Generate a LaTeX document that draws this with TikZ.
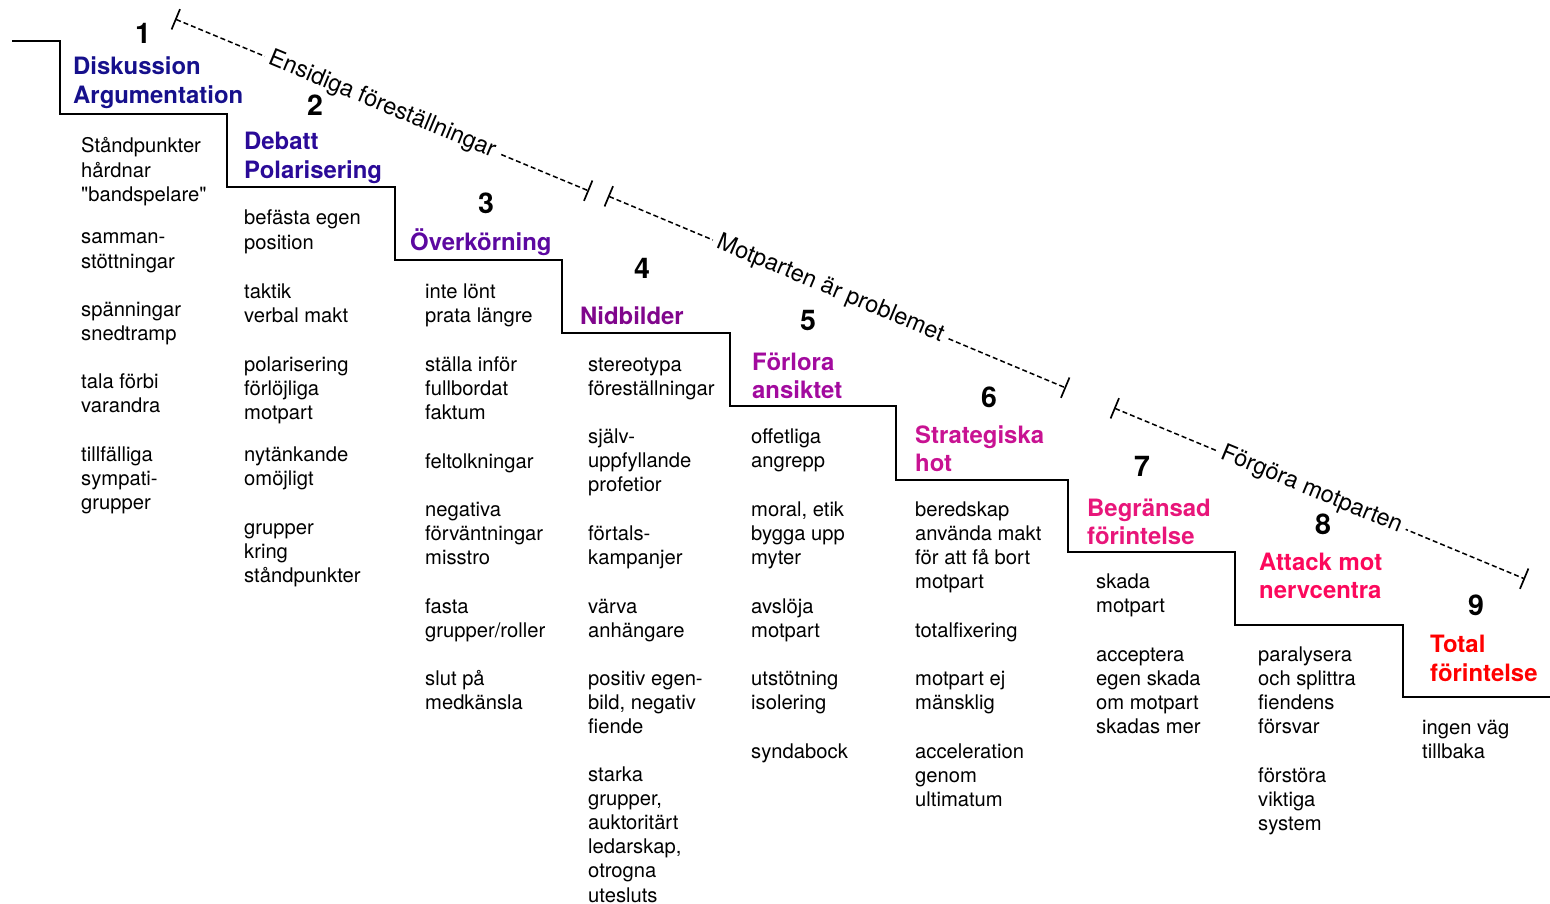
\documentclass[tikz,border=0pt]{standalone}
\usepackage{fontspec}
\setmainfont{TeX Gyre Heros}[Ligatures=TeXOff]
\usetikzlibrary{arrows.meta}
\definecolor{c1}{RGB}{22,16,140}
\definecolor{c2}{RGB}{42,10,152}
\definecolor{c3}{RGB}{92,8,160}
\definecolor{c4}{RGB}{128,6,140}
\definecolor{c5}{RGB}{162,10,158}
\definecolor{c6}{RGB}{200,18,146}
\definecolor{c7}{RGB}{232,22,122}
\definecolor{c8}{RGB}{252,8,92}
\definecolor{c9}{RGB}{255,0,0}
\tikzset{
  body/.style={anchor=base west, align=left, inner sep=0pt, font=\fontsize{20.2}{24.2}\selectfont},
  ttl/.style={anchor=base west, align=left, inner sep=0pt, font=\fontsize{23.9}{28.5}\selectfont\bfseries},
  num/.style={inner sep=0pt, font=\fontsize{28.5}{30}\selectfont\bfseries},
  stair/.style={line width=1.6pt},
  span/.style={line width=1.5pt, dash pattern=on 5pt off 3pt,
    {Bar[width=22pt,line width=1.7pt]}-{Bar[width=22pt,line width=1.7pt]}},
  lbl/.style={sloped, fill=white, inner xsep=5pt, inner ysep=1pt, font=\fontsize{23.5}{26}\selectfont}
}
\begin{document}
\begin{tikzpicture}[x=1pt,y=-1pt]
\useasboundingbox (0,0) rectangle (1550,904);
% staircase
\draw[stair] (12,41) -- (60,41) -- (60,114) -- (227,114) -- (227,187) -- (395,187) -- (395,260)
  -- (562,260) -- (562,333) -- (730,333) -- (730,406) -- (896,406) -- (896,480) -- (1068,480)
  -- (1068,552) -- (1235,552) -- (1235,625) -- (1403,625) -- (1403,697) -- (1550,697);
% spans
\coordinate (s1a) at (175,19);  \coordinate (s1b) at (589,191);
\coordinate (s2a) at (608,196); \coordinate (s2b) at (1066,388);
\coordinate (s3a) at (1114,408);\coordinate (s3b) at (1525,579);
\draw[span] (s1a) -- node[lbl, pos=0.5] (l1) {Ensidiga föreställningar} (s1b);
\draw[span] (s2a) -- node[lbl, pos=0.485] (l2) {Motparten är problemet} (s2b);
\draw[span] (s3a) -- node[lbl, pos=0.48] (l3) {Förgöra motparten} (s3b);
% numbers
\node[num] (n1) at (143,33) {1};
\node[num] (n2) at (315,105) {2};
\node[num] (n3) at (486,203) {3};
\node[num] (n4) at (642,268) {4};
\node[num] (n5) at (808,321) {5};
\node[num] (n6) at (989,397) {6};
\node[num] (n7) at (1142,466) {7};
\node[num] (n8) at (1323,524) {8};
\node[num] (n9) at (1476,605) {9};
% titles (anchor = baseline of the last line)
\node[ttl, text=c1] (t1) at (73,103.5) {Diskussion\\Argumentation};
\node[ttl, text=c2] (t2) at (244,178.5) {Debatt\\Polarisering};
\node[ttl, text=c3] (t3) at (410,251) {Överkörning};
\node[ttl, text=c4] (t4) at (580,324) {Nidbilder};
\node[ttl, text=c5] (t5) at (752,398.5) {Förlora\\ansiktet};
\node[ttl, text=c6] (t6) at (915,471.5) {Strategiska\\hot};
\node[ttl, text=c7] (t7) at (1087,544.5) {Begränsad\\förintelse};
\node[ttl, text=c8] (t8) at (1259,598.5) {Attack mot\\nervcentra};
\node[ttl, text=c9] (t9) at (1430,681) {Total\\förintelse};
% column 1
\node[body] (b1a) at (81,201.4) {Ståndpunkter\\hårdnar\\"bandspelare"};
\node[body] (b1b) at (81,268.2) {samman-\\stöttningar};
\node[body] (b1c) at (81,340.2) {spänningar\\snedtramp};
\node[body] (b1d) at (81,412.2) {tala förbi\\varandra};
\node[body] (b1e) at (81,509.4) {tillfälliga\\sympati-\\grupper};
% column 2
\node[body] (b2a) at (244,249.2) {befästa egen\\position};
\node[body] (b2b) at (244,322.2) {taktik\\verbal makt};
\node[body] (b2c) at (244,419.4) {polarisering\\förlöjliga\\motpart};
\node[body] (b2d) at (244,485.2) {nytänkande\\omöjligt};
\node[body] (b2e) at (244,582.4) {grupper\\kring\\ståndpunkter};
% column 3
\node[body] (b3a) at (425,322.2) {inte lönt\\prata längre};
\node[body] (b3b) at (425,419.4) {ställa inför\\fullbordat\\faktum};
\node[body] (b3c) at (425,468) {feltolkningar};
\node[body] (b3d) at (425,564.4) {negativa\\förväntningar\\misstro};
\node[body] (b3e) at (425,637.2) {fasta\\grupper/roller};
\node[body] (b3f) at (425,709.2) {slut på\\medkänsla};
% column 4
\node[body] (b4a) at (588,395.2) {stereotypa\\föreställningar};
\node[body] (b4b) at (588,491.4) {själv-\\uppfyllande\\profetior};
\node[body] (b4c) at (588,564.2) {förtals-\\kampanjer};
\node[body] (b4d) at (588,637.2) {värva\\anhängare};
\node[body] (b4e) at (588,733.4) {positiv egen-\\bild, negativ\\fiende};
\node[body] (b4f) at (588,902) {starka\\grupper,\\auktoritärt\\ledarskap,\\otrogna\\utesluts};
% column 5
\node[body] (b5a) at (751,467.2) {offetliga\\angrepp};
\node[body] (b5b) at (751,564.4) {moral, etik\\bygga upp\\myter};
\node[body] (b5c) at (751,637.2) {avslöja\\motpart};
\node[body] (b5d) at (751,709.2) {utstötning\\isolering};
\node[body] (b5e) at (751,758) {syndabock};
% column 6
\node[body] (b6a) at (915,588.6) {beredskap\\använda makt\\för att få bort\\motpart};
\node[body] (b6b) at (915,637) {totalfixering};
\node[body] (b6c) at (915,709.2) {motpart ej\\mänsklig};
\node[body] (b6d) at (915,806.4) {acceleration\\genom\\ultimatum};
% column 7
\node[body] (b7a) at (1096,612.2) {skada\\motpart};
\node[body] (b7b) at (1096,733.6) {acceptera\\egen skada\\om motpart\\skadas mer};
% column 8
\node[body] (b8a) at (1258,733.6) {paralysera\\och splittra\\fiendens\\försvar};
\node[body] (b8b) at (1258,830.4) {förstöra\\viktiga\\system};
% column 9
\node[body] (b9a) at (1422,758.2) {ingen väg\\tillbaka};
\end{tikzpicture}
\end{document}
